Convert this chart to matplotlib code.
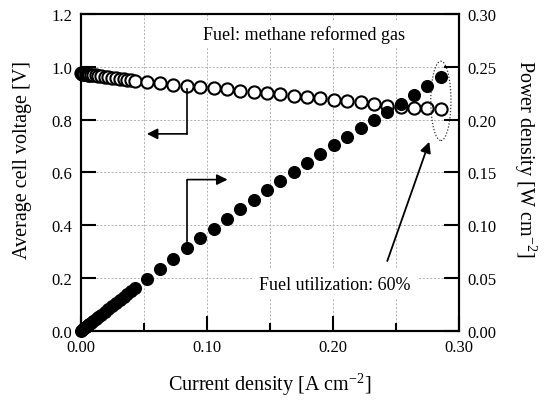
import numpy as np
import matplotlib
matplotlib.use('Agg')
import matplotlib.pyplot as plt
from matplotlib.patches import Ellipse

plt.rcParams['font.family'] = ['Liberation Serif', 'DejaVu Serif']
plt.rcParams['mathtext.fontset'] = 'custom'
plt.rcParams['mathtext.rm'] = 'Liberation Serif'
plt.rcParams['mathtext.default'] = 'regular'

# current density [A cm-2]
current = np.array([0.000, 0.001, 0.002, 0.003, 0.004, 0.005, 0.006, 0.007, 0.008,
                    0.010, 0.012, 0.014, 0.016, 0.019, 0.022, 0.025, 0.028, 0.031,
                    0.034, 0.037, 0.040, 0.043,
                    0.0524, 0.0630, 0.0736, 0.0842, 0.0948, 0.1054, 0.1160, 0.1266,
                    0.1372, 0.1478, 0.1584, 0.1690, 0.1796, 0.1902, 0.2008, 0.2114,
                    0.2220, 0.2326, 0.2432, 0.2538, 0.2644, 0.2750, 0.2856])

# average cell voltage [V]
voltage = np.array([0.975, 0.974, 0.973, 0.972, 0.972, 0.971, 0.970, 0.970, 0.969,
                    0.968, 0.967, 0.966, 0.965, 0.963, 0.961, 0.959, 0.957, 0.955,
                    0.953, 0.951, 0.949, 0.947,
                    0.942, 0.937, 0.932, 0.928, 0.924, 0.919, 0.914, 0.910,
                    0.905, 0.900, 0.896, 0.891, 0.886, 0.881, 0.876, 0.870,
                    0.865, 0.858, 0.852, 0.847, 0.843, 0.842, 0.841])

# power density [W cm-2]
power = np.array([0.0000, 0.0010, 0.0019, 0.0029, 0.0039, 0.0049, 0.0058, 0.0068, 0.0078,
                  0.0097, 0.0116, 0.0135, 0.0154, 0.0183, 0.0211, 0.0240, 0.0268, 0.0296,
                  0.0324, 0.0352, 0.0380, 0.0407,
                  0.0494, 0.0590, 0.0686, 0.0781, 0.0876, 0.0969, 0.1060, 0.1152,
                  0.1242, 0.1330, 0.1419, 0.1506, 0.1591, 0.1676, 0.1759, 0.1839,
                  0.1920, 0.1996, 0.2072, 0.2150, 0.2229, 0.2316, 0.2402])

x_ticks = [0.00, 0.10, 0.20, 0.30]
x_minor = [0.05, 0.15, 0.25]
v_ticks = [0.0, 0.2, 0.4, 0.6, 0.8, 1.0, 1.2]
p_ticks = [0.00, 0.05, 0.10, 0.15, 0.20, 0.25, 0.30]

fig = plt.figure(figsize=(5.45, 4.02), dpi=100)
ax = fig.add_axes([0.148, 0.174, 0.694, 0.789])
ax2 = ax.twinx()

ax.set_xlim(0, 0.30)
ax.set_ylim(0, 1.2)
ax2.set_ylim(0, 0.30)

# grid
for gx in [0.05, 0.10, 0.15, 0.20, 0.25]:
    ax.axvline(gx, color='#a8a8a8', ls=(0, (2.5, 2)), lw=0.6, zorder=0)
for gy in [0.2, 0.4, 0.6, 0.8, 1.0]:
    ax.axhline(gy, color='#a8a8a8', ls=(0, (2.5, 2)), lw=0.6, zorder=0)

ax.plot(current, voltage, 'o', ms=8.8, mfc='white', mec='black', mew=1.5,
        clip_on=False, zorder=3)
ax2.plot(current, power, 'o', ms=8.4, mfc='black', mec='black',
         clip_on=False, zorder=3)

# arrows
ax.plot([0.0842, 0.0842], [0.917, 0.746], color='black', lw=1.2, zorder=4)
ax.annotate('', xy=(0.0525, 0.746), xytext=(0.0842, 0.746),
            arrowprops=dict(arrowstyle='-|>', color='black', lw=1.2,
                            mutation_scale=16, shrinkA=0, shrinkB=0), zorder=4)
ax.plot([0.0847, 0.0847], [0.337, 0.573], color='black', lw=1.2, zorder=4)
ax.annotate('', xy=(0.1165, 0.573), xytext=(0.0847, 0.573),
            arrowprops=dict(arrowstyle='-|>', color='black', lw=1.2,
                            mutation_scale=16, shrinkA=0, shrinkB=0), zorder=4)

ax.add_patch(Ellipse((0.2857, 0.871), 0.016, 0.30, fill=False, ls=(0, (1, 1.5)),
                     lw=0.9, color='#333333', zorder=4))
ax.annotate('', xy=(0.2765, 0.716), xytext=(0.2432, 0.265),
            arrowprops=dict(arrowstyle='-|>', color='black', lw=1.3,
                            mutation_scale=16, shrinkA=0, shrinkB=0), zorder=4)

ax.text(0.1775, 1.125, 'Fuel: methane reformed gas', ha='center', va='center',
        fontsize=13, bbox=dict(facecolor='white', edgecolor='none', pad=3), zorder=2)
ax.text(0.2015, 0.178, 'Fuel utilization: 60%', ha='center', va='center',
        fontsize=13, bbox=dict(facecolor='white', edgecolor='none', pad=5), zorder=2)

# axes style
for a in (ax, ax2):
    for s in a.spines.values():
        s.set_linewidth(1.5)
ax.set_xticks(x_ticks)
ax.set_xticklabels(['%.2f' % t for t in x_ticks])
ax.set_xticks(x_minor, minor=True)
ax.set_yticks(v_ticks)
ax.set_yticklabels(['%.1f' % t for t in v_ticks])
ax2.set_yticks(p_ticks)
ax2.set_yticklabels(['%.2f' % t for t in p_ticks])
ax.tick_params(axis='both', which='major', direction='in', length=11, width=1.5,
               labelsize=12, pad=6)
ax.tick_params(axis='x', which='minor', direction='in', length=6, width=1.5)
ax.tick_params(axis='y', which='minor', left=False)
ax2.tick_params(axis='y', which='major', direction='in', length=11, width=1.5,
                labelsize=12, pad=6)

ax.set_xlabel('Current density [A cm$^{-2}$]', fontsize=14.5, labelpad=11)
ax.set_ylabel('Average cell voltage [V]', fontsize=14.5)
ax.yaxis.set_label_coords(-0.128, 0.543)
ax2.set_ylabel('Power density [W cm$^{-2}$]', fontsize=14.5, rotation=270,
               va='center')
ax2.yaxis.set_label_coords(1.175, 0.545)

fig.savefig('out.png', dpi=100)
